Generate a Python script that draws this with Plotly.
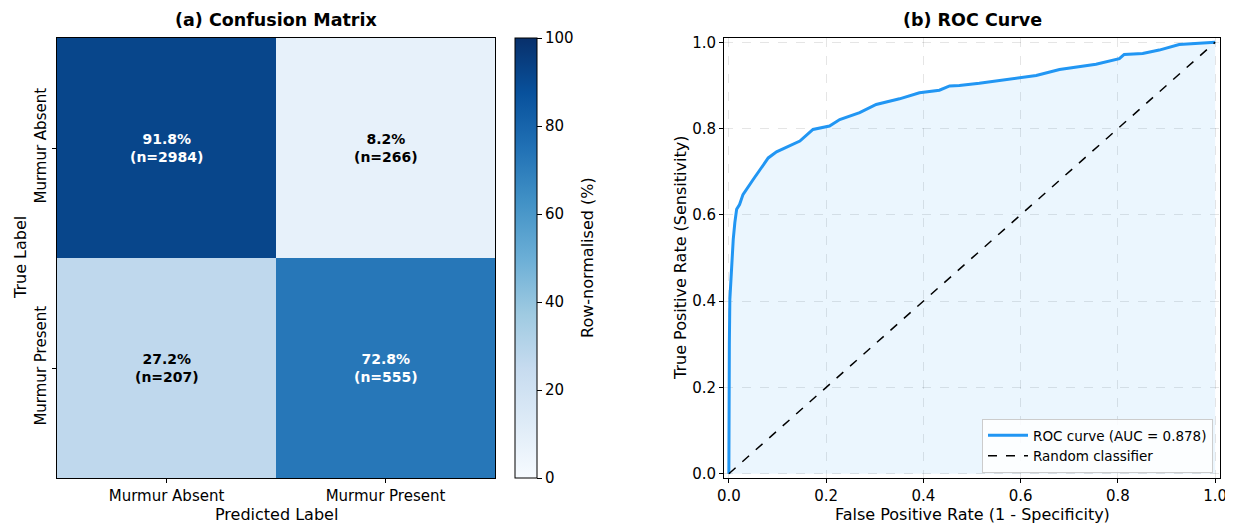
import plotly.graph_objects as go

# ---------------- data ----------------
class_labels = ["Murmur Absent", "Murmur Present"]
cm_percent = [[91.8, 8.2], [27.2, 72.8]]
cm_counts = [[2984, 266], [207, 555]]

roc_fpr = [0.0, 0.0, 0.001, 0.002, 0.0055, 0.009, 0.0123, 0.016, 0.022, 0.029, 0.05, 0.064,
           0.081, 0.098, 0.125, 0.146, 0.173, 0.207, 0.228, 0.269, 0.303, 0.351, 0.392,
           0.433, 0.454, 0.474, 0.515, 0.577, 0.632, 0.680, 0.755, 0.803, 0.813, 0.851,
           0.885, 0.926, 0.981, 1.0]
roc_tpr = [0.0, 0.1, 0.3, 0.404, 0.481, 0.543, 0.582, 0.613, 0.624, 0.647, 0.682, 0.705,
           0.732, 0.746, 0.759, 0.771, 0.798, 0.806, 0.821, 0.837, 0.856, 0.869, 0.883,
           0.889, 0.899, 0.900, 0.905, 0.914, 0.923, 0.937, 0.949, 0.962, 0.972, 0.974,
           0.982, 0.995, 0.998, 1.0]
auc_value = 0.878
diag = [0.0, 1.0]

axis_ticks = [0.0, 0.2, 0.4, 0.6, 0.8, 1.0]
cbar_ticks = [0, 20, 40, 60, 80, 100]

FONT = "DejaVu Sans"
blues = ["#f7fbff", "#deebf7", "#c6dbef", "#9ecae1", "#6baed6",
         "#4292c6", "#2171b5", "#08519c", "#08306b"]
blues_scale = [[i / (len(blues) - 1), c] for i, c in enumerate(blues)]

W, H = 1233, 525
OFF = 8  # page body margin
def px_x(p):
    return (p - OFF) / W
def px_y(p):
    return 1 - (p - OFF) / H

fig = go.Figure()

# ---------------- confusion matrix ----------------
fig.add_trace(go.Heatmap(
    z=cm_percent, x=[0, 1], y=[0, 1],
    zmin=0, zmax=100, colorscale=blues_scale,
    xaxis="x", yaxis="y",
    hoverinfo="skip",
    colorbar=dict(
        x=px_x(515), xanchor="left", xref="paper",
        y=px_y(478), yanchor="bottom", yref="paper",
        len=440, lenmode="pixels", thickness=22, thicknessmode="pixels",
        outlinecolor="black", outlinewidth=1, xpad=0, ypad=0,
        tickvals=cbar_ticks, ticks="outside", ticklen=5, tickcolor="black",
        tickfont=dict(family=FONT, size=15, color="black"),
    ),
))

annotations = []
for i in range(2):
    for j in range(2):
        v = cm_percent[i][j]
        annotations.append(dict(
            x=j, y=i, xref="x", yref="y",
            text=f"<b>{v:.1f}%<br>(n={cm_counts[i][j]})</b>",
            showarrow=False,
            font=dict(family=FONT, size=14, color="white" if v > 50 else "black"),
        ))

# ---------------- ROC ----------------
fig.add_trace(go.Scatter(
    x=roc_fpr, y=roc_tpr, mode="lines", fill="tozeroy",
    fillcolor="rgba(33,150,243,0.09)", line=dict(width=0),
    showlegend=False, hoverinfo="skip", xaxis="x2", yaxis="y2",
))
fig.add_trace(go.Scatter(
    x=roc_fpr, y=roc_tpr, mode="lines",
    line=dict(color="#2196F3", width=3),
    name=f"ROC curve (AUC = {auc_value:.3f})", xaxis="x2", yaxis="y2",
))
fig.add_trace(go.Scatter(
    x=diag, y=diag, mode="lines",
    line=dict(color="black", width=1.5, dash="dash"),
    name="Random classifier", xaxis="x2", yaxis="y2",
))

# titles
annotations.append(dict(
    text="<b>(a) Confusion Matrix</b>", x=px_x(276), y=px_y(20), xref="paper", yref="paper",
    showarrow=False, font=dict(family=FONT, size=17.5, color="black"),
    xanchor="center", yanchor="middle"))
annotations.append(dict(
    text="<b>(b) ROC Curve</b>", x=px_x(972), y=px_y(20), xref="paper", yref="paper",
    showarrow=False, font=dict(family=FONT, size=17.5, color="black"),
    xanchor="center", yanchor="middle"))
# axis titles as annotations for exact placement
annotations.append(dict(
    text="Predicted Label", x=px_x(276), y=px_y(514), xref="paper", yref="paper",
    showarrow=False, font=dict(family=FONT, size=16, color="black"),
    xanchor="center", yanchor="middle"))
annotations.append(dict(
    text="True Label", x=px_x(20), y=px_y(258), xref="paper", yref="paper",
    showarrow=False, textangle=-90, font=dict(family=FONT, size=16, color="black"),
    xanchor="center", yanchor="middle"))
annotations.append(dict(
    text="Row-normalised (%)", x=px_x(587), y=px_y(258), xref="paper", yref="paper",
    showarrow=False, textangle=-90, font=dict(family=FONT, size=16, color="black"),
    xanchor="center", yanchor="middle"))
annotations.append(dict(
    text="False Positive Rate (1 - Specificity)", x=px_x(972), y=px_y(514),
    xref="paper", yref="paper",
    showarrow=False, font=dict(family=FONT, size=16, color="black"),
    xanchor="center", yanchor="middle"))
annotations.append(dict(
    text="True Positive Rate (Sensitivity)", x=px_x(680), y=px_y(258),
    xref="paper", yref="paper",
    showarrow=False, textangle=-90, font=dict(family=FONT, size=16, color="black"),
    xanchor="center", yanchor="middle"))

tickfont = dict(family=FONT, size=15, color="black")

fig.update_layout(
    width=W, height=H,
    margin=dict(l=0, r=0, t=0, b=0, autoexpand=False),
    paper_bgcolor="white", plot_bgcolor="white",
    font=dict(family=FONT, color="black"),
    annotations=annotations,
    xaxis=dict(
        domain=[px_x(57), px_x(495)], range=[-0.5, 1.5], automargin=False,
        tickvals=[0, 1], ticktext=class_labels, tickfont=tickfont,
        ticks="outside", ticklen=4, tickcolor="black",
        showline=True, linecolor="black", linewidth=1, mirror=True,
        showgrid=False, zeroline=False,
    ),
    yaxis=dict(
        domain=[px_y(478), px_y(38)], range=[1.5, -0.5], automargin=False,
        tickvals=[0, 1], ticktext=class_labels, tickfont=tickfont, tickangle=-90,
        ticks="outside", ticklen=4, tickcolor="black",
        showline=True, linecolor="black", linewidth=1, mirror=True,
        showgrid=False, zeroline=False,
    ),
    xaxis2=dict(
        domain=[px_x(724), px_x(1220)], range=[-0.01, 1.01], anchor="y2", automargin=False,
        tickvals=axis_ticks, tickformat=".1f", tickfont=tickfont,
        ticks="outside", ticklen=4, tickcolor="black",
        showline=True, linecolor="black", linewidth=1, mirror=True,
        showgrid=True, gridcolor="rgba(0,0,0,0.10)", griddash="dash", zeroline=False,
    ),
    yaxis2=dict(
        domain=[px_y(478), px_y(38)], range=[-0.01, 1.01], anchor="x2", automargin=False,
        tickvals=axis_ticks, tickformat=".1f", tickfont=tickfont,
        ticks="outside", ticklen=4, tickcolor="black",
        showline=True, linecolor="black", linewidth=1, mirror=True,
        showgrid=True, gridcolor="rgba(0,0,0,0.10)", griddash="dash", zeroline=False,
    ),
    legend=dict(
        x=px_x(1213), y=px_y(473), xanchor="right", yanchor="bottom",
        bgcolor="rgba(255,255,255,0.85)", bordercolor="#cccccc", borderwidth=1,
        font=dict(family=FONT, size=13.5, color="black"),
        itemwidth=40, tracegroupgap=0,
    ),
)

fig.write_html("out.html")
